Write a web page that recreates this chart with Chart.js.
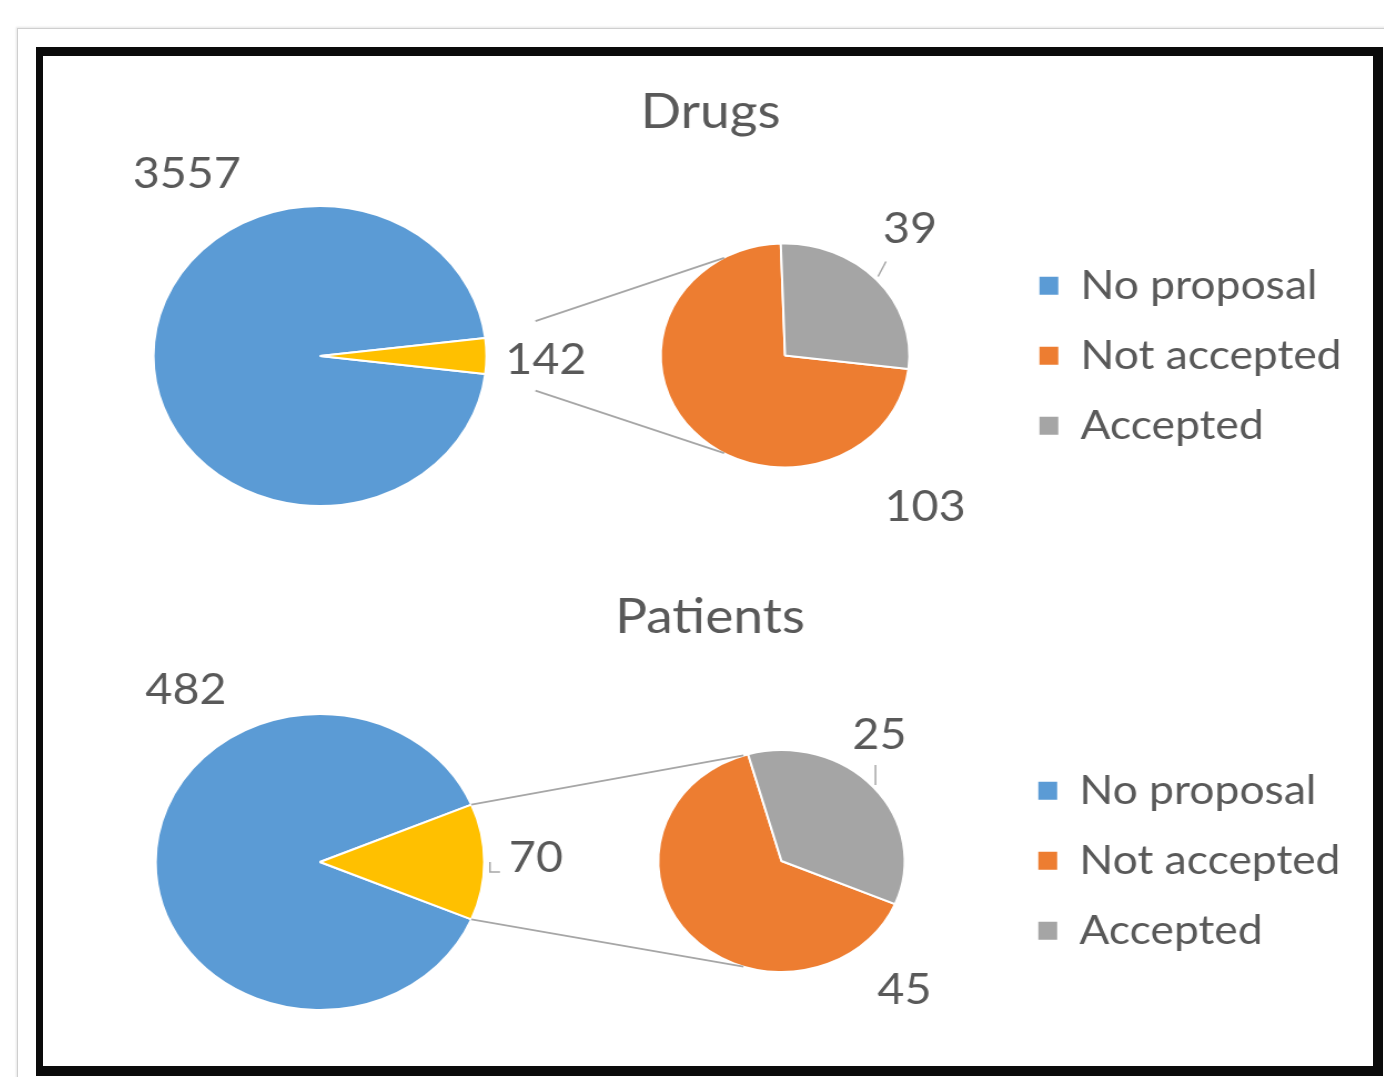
<!DOCTYPE html>
<html>
<head>
<meta charset="utf-8">
<script src="https://cdn.jsdelivr.net/npm/chart.js@4.4.1/dist/chart.umd.min.js"></script>
<style>
  body { margin: 0; background: #fff; width: 1384px; height: 1077px; overflow: hidden; position: relative; }
  .sheet { position: absolute; left: 17px; top: 28px; width: 1400px; height: 1100px;
           border-left: 1px solid #cfcfcf; border-top: 1px solid #cfcfcf; box-shadow: -1px -1px 2px #e6e6e6; }
  .frame { position: absolute; left: 36px; top: 47px; width: 1330px; height: 1010px; z-index: 2;
           border-style: solid; border-color: #0b0b0b; border-width: 9px 10px 10px 7px; }
  .panel { position: absolute; left: 44px; transform-origin: 0 0; transform: scaleX(1.11); }
</style>
</head>
<body>
<div class="sheet"></div>
<div class="panel" style="top:54px"><canvas id="drugs" width="1197" height="511"></canvas></div>
<div class="panel" style="top:565px"><canvas id="patients" width="1197" height="504"></canvas></div>
<div class="frame"></div>
<script>
// values
const legendLabels = ['No proposal', 'Not accepted', 'Accepted'];
const drugsMain = [3557, 142];      // no proposal / proposals made
const drugsSplit = [103, 39];       // not accepted / accepted
const patientsMain = [482, 70];
const patientsSplit = [45, 25];

const BLUE = '#5B9BD5', YELLOW = '#FFC000', ORANGE = '#ED7D31', GREY = '#A5A5A5';
const TEXT = '#595959';

// pie of pie: move second dataset next to the first one, draw series lines and labels
const pieOfPie = {
  id: 'pieOfPie',
  afterDatasetsUpdate(chart, args, opts) {
    [opts.main, opts.split].forEach((g, i) => {
      chart.getDatasetMeta(i).data.forEach(arc => {
        arc.x = g.x; arc.y = g.y; arc.outerRadius = g.r; arc.innerRadius = 0;
      });
    });
  },
  afterDatasetsDraw(chart, args, opts) {
    const ctx = chart.ctx;
    const slice = chart.getDatasetMeta(0).data[1];
    const second = chart.getDatasetMeta(1).data[0];
    ctx.save();
    ctx.strokeStyle = '#A6A6A6';
    ctx.lineWidth = 1.8;
    const pairs = [[slice.startAngle, Math.PI + opts.reach], [slice.endAngle, Math.PI - opts.reach]];
    pairs.forEach(([a, b]) => {
      const x0 = slice.x + slice.outerRadius * Math.cos(a);
      const y0 = slice.y + slice.outerRadius * Math.sin(a);
      const x1 = second.x + second.outerRadius * Math.cos(b);
      const y1 = second.y + second.outerRadius * Math.sin(b);
      ctx.beginPath();
      ctx.moveTo(x0 + (x1 - x0) * opts.gap, y0 + (y1 - y0) * opts.gap);
      ctx.lineTo(x1, y1);
      ctx.stroke();
    });

    ctx.lineWidth = 1.5;
    ctx.fillStyle = TEXT;
    ctx.font = '42px Lato';
    ctx.textAlign = 'center';
    ctx.textBaseline = 'middle';
    chart.data.datasets.forEach((ds, i) => {
      chart.getDatasetMeta(i).data.forEach((arc, j) => {
        const r = arc.outerRadius;
        const [dx, dy] = opts.labelAt[i][j];
        ctx.fillText(String(ds.data[j]), arc.x + dx * r, arc.y + dy * r);
        const lead = opts.leaders[i] && opts.leaders[i][j];
        if (lead) {
          ctx.beginPath();
          lead.forEach(([px, py], k) => {
            const X = arc.x + px * r, Y = arc.y + py * r;
            if (k === 0) ctx.moveTo(X, Y); else ctx.lineTo(X, Y);
          });
          ctx.stroke();
        }
      });
    });
    ctx.restore();
  }
};

function startAngle(main) {
  // the proposals slice sits centred on the right-hand side
  return 90 + 180 * main[1] / (main[0] + main[1]);
}

function makeChart(id, title, main, split, geo) {
  const rot = startAngle(main);
  return new Chart(document.getElementById(id), {
    type: 'pie',
    data: {
      labels: legendLabels,
      datasets: [
        { data: main, backgroundColor: [BLUE, YELLOW], borderColor: '#fff', borderWidth: 2, rotation: rot },
        { data: split, backgroundColor: [ORANGE, GREY], borderColor: '#fff', borderWidth: 2, rotation: rot }
      ]
    },
    options: {
      responsive: false,
      animation: false,
      events: [],
      layout: { padding: geo.padding },
      plugins: {
        title: {
          display: true,
          text: title,
          color: TEXT,
          font: { family: 'Lato', size: 48, weight: 'normal' },
          padding: { top: 20, bottom: 10 }
        },
        legend: {
          position: 'right',
          fullSize: false,
          labels: {
            color: TEXT,
            font: { family: 'Lato', size: 40 },
            boxWidth: 17,
            boxHeight: 18,
            padding: 30,
            generateLabels: () => legendLabels.map((t, i) => ({
              text: t,
              fillStyle: [BLUE, ORANGE, GREY][i],
              strokeStyle: [BLUE, ORANGE, GREY][i],
              lineWidth: 0,
              fontColor: TEXT,
              hidden: false,
              index: i
            }))
          }
        },
        tooltip: { enabled: false },
        pieOfPie: geo
      }
    },
    plugins: [pieOfPie]
  });
}

makeChart('drugs', 'Drugs', drugsMain, drugsSplit, {
  padding: { top: 10, right: 18, bottom: 5, left: 22 },
  main: { x: 248.6, y: 302, r: 150 },
  split: { x: 667.6, y: 301.5, r: 112 },
  reach: 60.7 * Math.PI / 180,
  gap: 0.21,
  labelAt: [[[-0.80, -1.21], [1.357, 0.027]], [[1.126, 1.357], [1.005, -1.125]]],
  leaders: [null, [null, [[0.748, -0.705], [0.812, -0.839]]]]
});

makeChart('patients', 'Patients', patientsMain, patientsSplit, {
  padding: { top: 4, right: 19, bottom: 4, left: 22 },
  main: { x: 248.6, y: 297, r: 148 },
  split: { x: 664.4, y: 296, r: 111 },
  reach: 72 * Math.PI / 180,
  gap: 0,
  labelAt: [[[-0.816, -1.162], [1.315, -0.027]], [[0.998, 1.162], [0.795, -1.135]]],
  leaders: [[null, [[1.035, 0], [1.035, 0.068], [1.096, 0.068]]], [null, [[0.763, -0.865], [0.763, -0.685]]]]
});
</script>
</body>
</html>
